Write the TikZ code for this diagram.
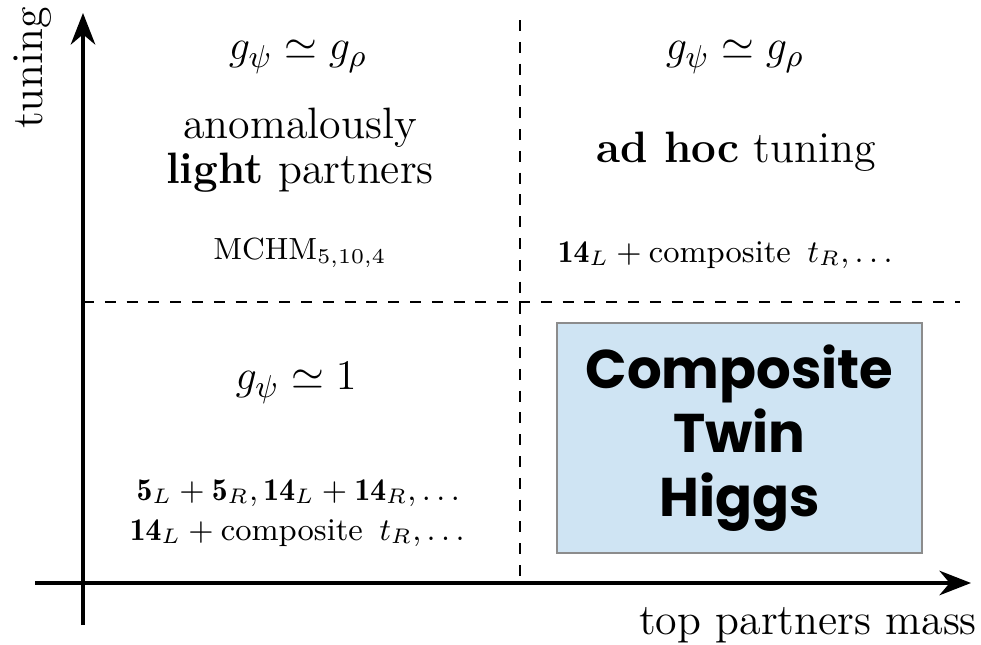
\documentclass[tikz,border=0pt]{standalone}
\usepackage{fontspec}
\usepackage{amsmath}
\newfontfamily\twinfont{Poppins}
\usetikzlibrary{arrows.meta}
\definecolor{boxblue}{HTML}{CFE4F3}
\definecolor{boxedge}{HTML}{8C8C8C}
\tikzset{
  axisline/.style={line width=0.9pt,-{Stealth[length=9pt,width=7pt]}},
  divline/.style={line width=0.7pt,dash pattern=on 3.1pt off 3.1pt},
  bigtxt/.style={font=\fontsize{12.5}{15}\selectfont,inner sep=0pt},
  smalltxt/.style={font=\fontsize{9}{11}\selectfont,inner sep=0pt},
  twinbox/.style={draw=boxedge,fill=boxblue,line width=0.6pt,minimum width=3.65cm,minimum height=2.3cm,inner sep=0pt,
    align=center,font=\twinfont\bfseries\fontsize{15.5}{18.2}\selectfont}
}
\begin{document}
\begin{tikzpicture}[x=0.01cm,y=-0.01cm]
\useasboundingbox (0,0) rectangle (981,645);
% axes
\coordinate (yb) at (83,625);
\coordinate (yt) at (83,13);
\coordinate (xl) at (35,583);
\coordinate (xr) at (971,583);
\draw[axisline] (yb) -- (yt);
\draw[axisline] (xl) -- (xr);
% dividers
\coordinate (vt) at (520,20);
\coordinate (vb) at (520,583);
\coordinate (hl) at (83,302);
\coordinate (hr) at (960,302);
\draw[divline] (vt) -- (vb);
\draw[divline] (hl) -- (hr);
% axis labels
\node[bigtxt,rotate=90] (tun) at (33,68) {tuning};
\node[bigtxt] (tpm) at (808,625) {top partners mass};
% top-left
\node[bigtxt] (g1) at (298,57) {$g_\psi \simeq g_\rho$};
\node[bigtxt] (an) at (300,128) {anomalously};
\node[bigtxt] (lp) at (300,173) {\textbf{light} partners};
\node[smalltxt,font=\fontsize{8.7}{11}\selectfont] (mc) at (300,253) {MCHM$_{5,10,4}$};
% top-right
\node[bigtxt] (g2) at (735,57) {$g_\psi \simeq g_\rho$};
\node[bigtxt] (ah) at (736,152) {\textbf{ad hoc} tuning};
\node[smalltxt] (c1) at (728,255) {$\mathbf{14}_L+\text{composite}~\,t_R,\dots$};
% bottom-left
\node[bigtxt] (g3) at (296,383) {$g_\psi \simeq 1$};
\node[smalltxt] (fl) at (301,493) {$\mathbf{5}_L+\mathbf{5}_R,\mathbf{14}_L+\mathbf{14}_R,\dots$};
\node[smalltxt] (c2) at (300,533) {$\mathbf{14}_L+\text{composite}~\,t_R,\dots$};
% box
\node[twinbox] (ctw) at (739.5,438) {Composite\\Twin\\Higgs};
\end{tikzpicture}
\end{document}
